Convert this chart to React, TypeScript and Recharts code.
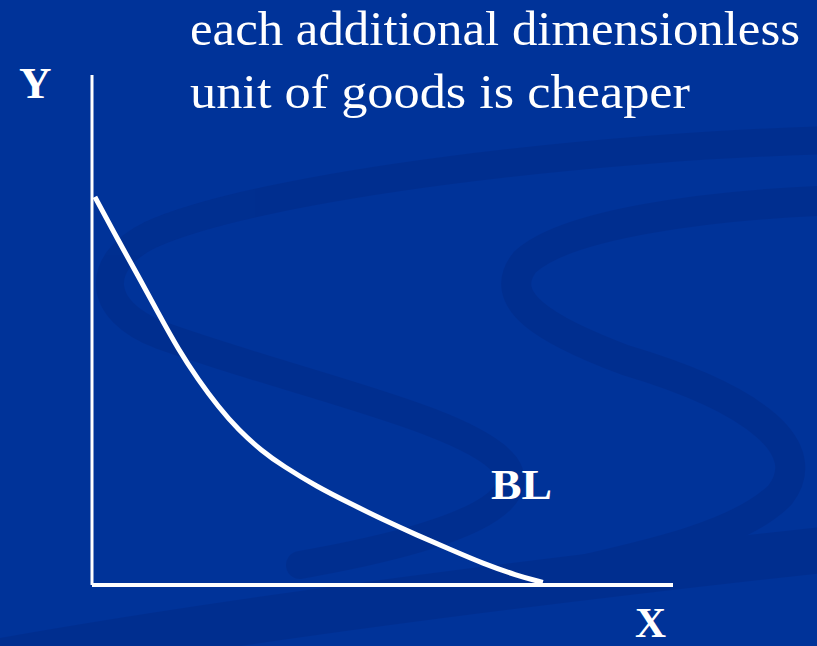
import React from "react";
import { LineChart, Line, XAxis, YAxis } from "recharts";

// Budget line: quantity of X against quantity of Y
const xValues = [0.5, 4.5, 8.0, 11.4, 14.9, 18.3, 21.7, 25.2, 29.2, 32.9, 38.7, 44.4, 50.1, 55.9, 61.6, 67.3, 73.0, 77.6];
const yValues = [76.1, 67.6, 60.5, 53.3, 46.1, 40.2, 35.0, 30.4, 26.3, 23.3, 19.3, 16.0, 12.8, 9.8, 7.0, 4.2, 1.9, 0.5];

const titleLines = ["each additional dimensionless", "unit of goods is cheaper"];
const yAxisLabel = "Y";
const xAxisLabel = "X";
const curveLabel = "BL";

const data = xValues.map((x, i) => ({ x, y: yValues[i] }));

const W = 817;
const H = 646;
const BG = "#003399";
const SWIRL = "#002a85";

function Backdrop() {
  return (
    <svg width={W} height={H} style={{ position: "absolute", left: 0, top: 0 }}>
      <rect width={W} height={H} fill={BG} />
      <g fill="none" stroke={SWIRL} strokeLinecap="round" opacity={0.45}>
        {/* left sweep curling back under the curve */}
        <path d="M 840 140 C 600 145 260 185 150 235 C 95 262 95 310 160 335 C 300 385 470 420 505 465 C 530 500 470 535 300 565" strokeWidth={28} />
        {/* right sweep */}
        <path d="M 840 200 C 700 205 565 225 525 262 C 495 300 545 330 625 360 C 760 400 815 450 780 495 C 740 535 650 555 560 575" strokeWidth={30} />
        {/* lower diagonal band */}
        <path d="M -20 665 C 200 625 500 585 840 548" strokeWidth={46} />
      </g>
    </svg>
  );
}

function Overlay() {
  const serif = "'Liberation Serif', 'Times New Roman', serif";
  return (
    <svg width={W} height={H} style={{ position: "absolute", left: 0, top: 0, pointerEvents: "none" }}>
      <text x={190} y={45} fill="#fff" fontFamily={serif} fontSize={48} textLength={610} lengthAdjust="spacingAndGlyphs">
        {titleLines[0]}
      </text>
      <text x={190} y={108} fill="#fff" fontFamily={serif} fontSize={48} textLength={500} lengthAdjust="spacingAndGlyphs">
        {titleLines[1]}
      </text>
      <text x={19} y={98} fill="#fff" fontFamily={serif} fontWeight="bold" fontSize={45}>
        {yAxisLabel}
      </text>
      <text x={635} y={637} fill="#fff" fontFamily={serif} fontWeight="bold" fontSize={43}>
        {xAxisLabel}
      </text>
      <text x={491} y={499} fill="#fff" fontFamily={serif} fontWeight="bold" fontSize={42} textLength={61} lengthAdjust="spacingAndGlyphs">
        {curveLabel}
      </text>
    </svg>
  );
}

export default function App() {
  return (
    <div style={{ position: "fixed", left: 0, top: 0, width: W, height: H, overflow: "hidden" }}>
      <Backdrop />
      <div style={{ position: "absolute", left: 0, top: 0 }}>
        <LineChart
          width={W}
          height={H}
          data={data}
          margin={{ top: 75, right: W - 673, bottom: H - 585 - 1, left: 91 }}
        >
          <XAxis
            type="number"
            dataKey="x"
            domain={[0, 100]}
            height={1}
            tick={false}
            tickLine={false}
            axisLine={{ stroke: "#fff", strokeWidth: 4 }}
          />
          <YAxis
            type="number"
            domain={[0, 100]}
            width={1}
            tick={false}
            tickLine={false}
            axisLine={{ stroke: "#fff", strokeWidth: 3 }}
          />
          <Line
            type="basis"
            dataKey="y"
            stroke="#fff"
            strokeWidth={5}
            dot={false}
            isAnimationActive={false}
          />
        </LineChart>
      </div>
      <Overlay />
    </div>
  );
}
